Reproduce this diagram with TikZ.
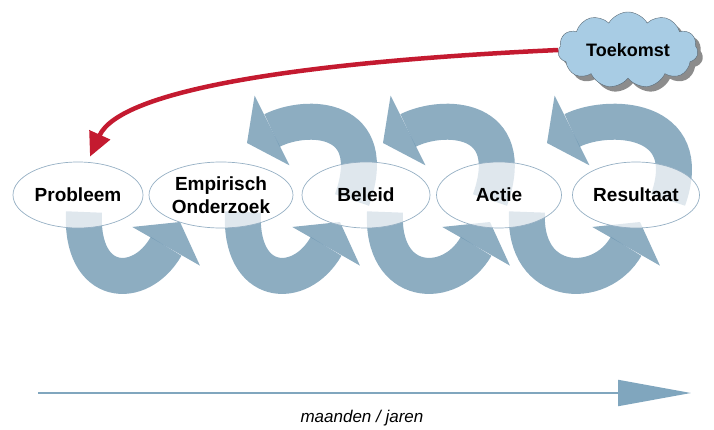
\documentclass[tikz,border=0pt]{standalone}
\usepackage{fontspec}
\setmainfont{Liberation Sans}
\usetikzlibrary{arrows.meta,shapes.geometric,shapes.symbols,shadows}
\definecolor{loopblue}{RGB}{112,152,178}
\definecolor{linkred}{RGB}{196,26,48}
\definecolor{timeblue}{RGB}{128,166,190}
\definecolor{cloudblue}{RGB}{168,204,228}
\definecolor{rimblue}{RGB}{150,176,196}
\tikzset{
    stage/.style={draw=rimblue, line width=0.7pt, shape=ellipse, fill=white, fill opacity=0.72, text opacity=1,
        minimum width=130pt, minimum height=66pt, inner sep=0pt, align=center,
        font=\fontsize{19}{23}\selectfont\bfseries},
    coil/.style={draw=loopblue, opacity=0.8, line width=36pt, -{Triangle[width=78pt,length=28pt,line width=0pt]}},
    feedback/.style={draw=linkred, line width=4.5pt, -{Triangle[width=22pt,length=24pt]}},
    cloudy/.style={shape=cloud, cloud puffs=11, cloud puff arc=120, aspect=2, draw=rimblue!60!black, fill=cloudblue,
        minimum width=140pt, minimum height=70pt, inner sep=0pt,
        drop shadow={shadow xshift=5pt, shadow yshift=-5pt, fill=black!45, opacity=1},
        font=\fontsize{18}{20}\selectfont\bfseries},
    timeline/.style={draw=timeblue, line width=2pt, -{Triangle[width=26pt,length=73pt]}}
}
\begin{document}
\begin{tikzpicture}[x=1pt, y=1pt]
                \useasboundingbox (0, 0) rectangle (714, 429);

                \coordinate (prob) at (78, 234);
                \coordinate (emp) at (221, 234);
                \coordinate (bel) at (366, 234);
                \coordinate (act) at (499, 234);
                \coordinate (res) at (636, 234);

                \draw[coil] ([xshift=6pt,yshift=-17pt]prob) .. controls +(-4,-76) and +(-40,-70) .. ([xshift=-41pt,yshift=-27pt]emp);
                \draw[coil] ([xshift=22pt,yshift=-17pt]emp) .. controls +(-4,-76) and +(-40,-70) .. ([xshift=-26pt,yshift=-27pt]bel);
                \draw[coil] ([xshift=19pt,yshift=-17pt]bel) .. controls +(-4,-76) and +(-40,-70) .. ([xshift=-9pt,yshift=-27pt]act);
                \draw[coil] ([xshift=28pt,yshift=-17pt]act) .. controls +(-4,-76) and +(-40,-70) .. ([xshift=4pt,yshift=-27pt]res);

                \draw[coil] ([xshift=-14pt,yshift=-5pt]bel) .. controls +(30,85) and +(60,30) .. ([xshift=26pt,yshift=52pt]emp);
                \draw[coil] ([xshift=-9pt,yshift=-5pt]act) .. controls +(30,85) and +(60,30) .. ([xshift=17pt,yshift=52pt]bel);
                \draw[coil] ([xshift=32pt,yshift=-5pt]res) .. controls +(30,85) and +(60,30) .. ([xshift=48pt,yshift=52pt]act);

                \node (probleem) at (prob) [stage] {Probleem};
                \node (onderzoek) at (emp) [stage, minimum width=144pt] {Empirisch\\Onderzoek};
                \node (beleid) at (bel) [stage, minimum width=128pt] {Beleid};
                \node (actie) at (act) [stage, minimum width=125pt] {Actie};
                \node (resultaat) at (res) [stage, minimum width=127pt] {Resultaat};

                \node (toekomst) at (628, 379) [cloudy] {Toekomst};

                \draw[feedback] (toekomst.west) .. controls (300, 367) and (120, 339) .. ([xshift=12pt,yshift=5pt]probleem.north);

                \coordinate (t0) at (38, 36);
                \coordinate (t1) at (691, 36);
                \draw[timeline] (t0) -- (t1);
                \node (tijd) at (362, 11) [font=\fontsize{17}{19}\selectfont\itshape] {maanden / jaren};
            \end{tikzpicture}
\end{document}
